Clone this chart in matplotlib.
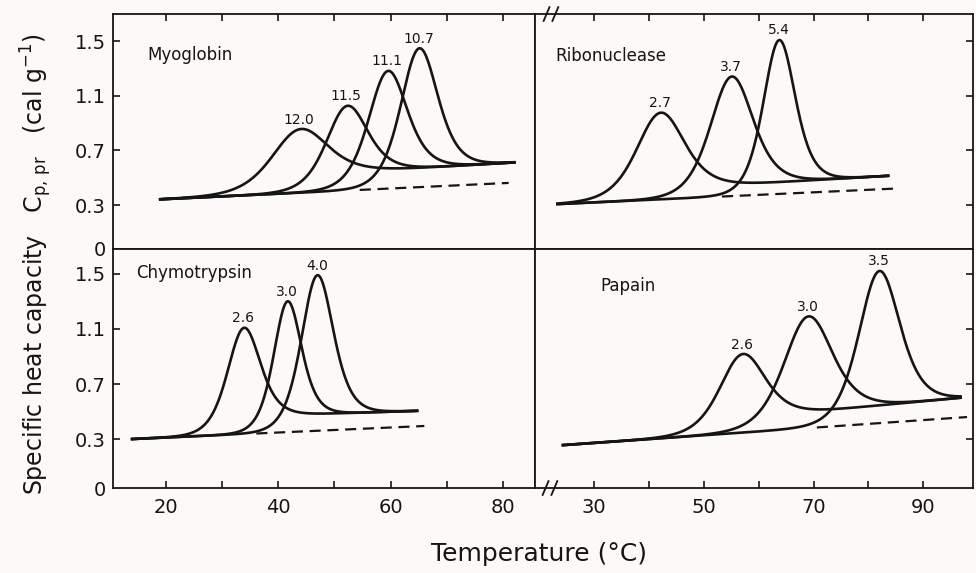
import numpy as np
import matplotlib.pyplot as plt
from matplotlib.lines import Line2D

INK = "#151515"
PAPER = "#fcf9f7"

# Myoglobin: peak labels, transition midpoints (degC), peak Cp, transition widths
MYO_LABELS = ["12.0", "11.5", "11.1", "10.7"]
MYO_TM = [43.6, 52.1, 59.4, 65.0]
MYO_PEAK = [0.853, 1.024, 1.28, 1.446]
MYO_WIDTH = [3.3, 2.45, 2.3, 2.2]
MYO_NATIVE = [(19.0, 0.342), (81.0, 0.462)]
MYO_DENAT = [(53.0, 0.542), (82.0, 0.612)]
MYO_SPAN = (19.0, 82.0)
MYO_DASH = (54.5, 81.0)

# Ribonuclease
RNASE_LABELS = ["2.7", "3.7", "5.4"]
RNASE_TM = [42.0, 55.0, 63.7]
RNASE_PEAK = [0.975, 1.24, 1.507]
RNASE_WIDTH = [2.9, 2.6, 1.95]
RNASE_NATIVE = [(23.3, 0.307), (84.5, 0.42)]
RNASE_DENAT = [(54.0, 0.445), (84.0, 0.515)]
RNASE_SPAN = (23.3, 83.6)
RNASE_DASH = (53.3, 84.5)

# Chymotrypsin
CHYMO_LABELS = ["2.6", "3.0", "4.0"]
CHYMO_TM = [33.8, 41.6, 46.9]
CHYMO_PEAK = [1.107, 1.30, 1.49]
CHYMO_WIDTH = [1.95, 1.65, 1.9]
CHYMO_NATIVE = [(14.0, 0.30), (66.0, 0.395)]
CHYMO_DENAT = [(41.5, 0.475), (64.7, 0.505)]
CHYMO_SPAN = (14.0, 64.7)
CHYMO_DASH = (36.1, 66.0)

# Papain
PAPAIN_LABELS = ["2.6", "3.0", "3.5"]
PAPAIN_TM = [56.9, 68.9, 81.9]
PAPAIN_PEAK = [0.916, 1.19, 1.52]
PAPAIN_WIDTH = [2.75, 2.95, 2.5]
PAPAIN_NATIVE = [(24.3, 0.256), (98.0, 0.46)]
PAPAIN_DENAT = [(65.1, 0.482), (96.8, 0.60)]
PAPAIN_SPAN = (24.3, 96.8)
PAPAIN_DASH = (70.6, 98.0)

LEFT_XTICKS = [20, 30, 40, 50, 60, 70, 80]
RIGHT_XTICKS = [30, 40, 50, 60, 70, 80, 90]
CP_TICKS = [0.3, 0.7, 1.1, 1.5]


# straight baseline through two (T, Cp) points
def line_at(pts, t):
    (t0, v0), (t1, v1) = pts
    return v0 + (v1 - v0) * (np.asarray(t) - t0) / (t1 - t0)


# two-state melting curve: baselines weighted by unfolded fraction plus excess peak
def cp_curve(t, tm, peak, width, native, denat):
    e = np.exp((t - tm) / width)
    frac = e / (1 + e)
    base = line_at(native, t) * (1 - frac) + line_at(denat, t) * frac
    excess = peak - (line_at(native, tm) + line_at(denat, tm)) / 2
    return base + excess * 4 * e / (1 + e) ** 2


def draw_panel(ax, labels, tms, peaks, widths, native, denat, span, dash):
    t = np.linspace(span[0], span[1], 600)
    for lbl, tm, pk, w in zip(labels, tms, peaks, widths):
        ax.plot(t, cp_curve(t, tm, pk, w, native, denat), color=INK, lw=1.9)
        ax.annotate(lbl, (tm, pk), xytext=(0, 2), textcoords="offset points",
                    ha="center", va="bottom", fontsize=10, color=INK)
    td = np.array(dash)
    ax.plot(td, line_at(native, td), color=INK, lw=1.6, dashes=(5, 3))


def style_axes(ax, xlim, ylim, xticks, xlabels, top_row, left_col):
    ax.set_facecolor(PAPER)
    ax.set_xlim(*xlim)
    ax.set_ylim(*ylim)
    for sp in ax.spines.values():
        sp.set_linewidth(1.3)
        sp.set_color(INK)
    ax.set_xticks(xticks)
    ax.tick_params(direction="in", length=5, width=1.2, color=INK,
                   labelsize=14, labelcolor=INK)
    ax.tick_params(axis="x", top=top_row, bottom=not top_row,
                   labeltop=False, labelbottom=not top_row, pad=7)
    if not top_row:
        ax.set_xticklabels(xlabels)
    # zero is written on the frame line; the scale proper starts at 0.3
    ax.set_yticks([ylim[0]] + CP_TICKS)
    ax.set_yticklabels(["0"] + [f"{v:.1f}" for v in CP_TICKS])
    ax.tick_params(axis="y", left=left_col, right=not left_col,
                   labelleft=left_col, labelright=False, pad=5)
    if left_col:
        ax.yaxis.get_major_ticks()[0].tick1line.set_visible(False)
    else:
        ax.yaxis.get_major_ticks()[0].tick2line.set_visible(False)


# pair of short slashes marking the broken temperature axis
def draw_break(fig, x, y):
    for off in (-0.0045, 0.0045):
        fig.add_artist(Line2D([x + off - 0.003, x + off + 0.003], [y - 0.012, y + 0.012],
                              transform=fig.transFigure, color=INK, lw=1.3))


fig = plt.figure(figsize=(9.76, 5.73), dpi=100)
fig.patch.set_facecolor(PAPER)

left_x, left_w = 0.1158, 0.4324
right_x, right_w = 0.5482, 0.4488
top_y, top_h = 0.5663, 0.4092
bot_y, bot_h = 0.1483, 0.4180

left_xlim = (10.6, 85.7)
right_xlim = (19.2, 99.1)
top_ylim = (-0.018, 1.698)
bot_ylim = (-0.056, 1.685)

ax_myo = fig.add_axes([left_x, top_y, left_w, top_h])
ax_rna = fig.add_axes([right_x, top_y, right_w, top_h])
ax_chy = fig.add_axes([left_x, bot_y, left_w, bot_h])
ax_pap = fig.add_axes([right_x, bot_y, right_w, bot_h])

style_axes(ax_myo, left_xlim, top_ylim, LEFT_XTICKS, None, True, True)
style_axes(ax_rna, right_xlim, top_ylim, RIGHT_XTICKS, None, True, False)
style_axes(ax_chy, left_xlim, bot_ylim, LEFT_XTICKS,
           ["20", "", "40", "", "60", "", "80"], False, True)
style_axes(ax_pap, right_xlim, bot_ylim, RIGHT_XTICKS,
           ["30", "", "50", "", "70", "", "90"], False, False)

draw_panel(ax_myo, MYO_LABELS, MYO_TM, MYO_PEAK, MYO_WIDTH,
           MYO_NATIVE, MYO_DENAT, MYO_SPAN, MYO_DASH)
draw_panel(ax_rna, RNASE_LABELS, RNASE_TM, RNASE_PEAK, RNASE_WIDTH,
           RNASE_NATIVE, RNASE_DENAT, RNASE_SPAN, RNASE_DASH)
draw_panel(ax_chy, CHYMO_LABELS, CHYMO_TM, CHYMO_PEAK, CHYMO_WIDTH,
           CHYMO_NATIVE, CHYMO_DENAT, CHYMO_SPAN, CHYMO_DASH)
draw_panel(ax_pap, PAPAIN_LABELS, PAPAIN_TM, PAPAIN_PEAK, PAPAIN_WIDTH,
           PAPAIN_NATIVE, PAPAIN_DENAT, PAPAIN_SPAN, PAPAIN_DASH)

ax_myo.text(16.8, 1.40, "Myoglobin", fontsize=12, va="center", color=INK)
ax_rna.text(22.9, 1.39, "Ribonuclease", fontsize=12, va="center", color=INK)
ax_chy.text(14.8, 1.51, "Chymotrypsin", fontsize=12, va="center", color=INK)
ax_pap.text(31.1, 1.41, "Papain", fontsize=12, va="center", color=INK)

draw_break(fig, 0.5645, top_y + top_h)
draw_break(fig, 0.5635, bot_y)

fig.text(0.037, 0.539,
         r"Specific heat capacity   C$_{\mathregular{p,\,pr}}$   (cal g$^{\mathregular{-1}}$)",
         rotation=90, ha="center", va="center", fontsize=17, color=INK)
fig.text(0.552, 0.033, "Temperature (°C)", ha="center", va="center",
         fontsize=18, color=INK)

fig.savefig("out.png", dpi=100, facecolor=PAPER)
